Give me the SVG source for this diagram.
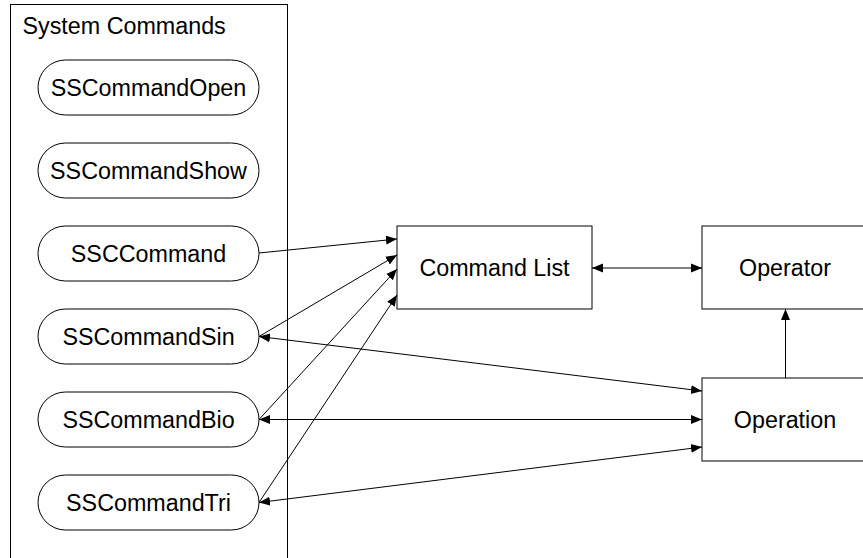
<svg xmlns="http://www.w3.org/2000/svg" width="863" height="558" viewBox="0 0 863 558">
<style>
.shape{fill:#fff;stroke:#000;stroke-width:1}
.lbl{font-family:"Liberation Sans",Arial,Helvetica,sans-serif;font-size:23.3px;fill:#000;text-anchor:middle}
.title{font-family:"Liberation Sans",Arial,Helvetica,sans-serif;font-size:23.3px;fill:#000}
.conn{stroke:#000;stroke-width:1;fill:none}
</style>
<defs>
<marker id="arr" viewBox="0 0 11 10" refX="11" refY="5" markerWidth="11" markerHeight="10" markerUnits="userSpaceOnUse" orient="auto-start-reverse">
<path d="M0,0.5 L11,5 L0,9.5 z" fill="#000"/>
</marker>
</defs>
<g id="system-commands">
<rect class="shape" x="10.5" y="4.5" width="277" height="600"/>
<text class="title" x="22.5" y="33.5">System Commands</text>
</g>
<g id="SSCommandOpen">
<rect class="shape" x="38" y="60" width="221" height="55" rx="27.5"/>
<text class="lbl" x="148.5" y="96">SSCommandOpen</text>
</g>
<g id="SSCommandShow">
<rect class="shape" x="38" y="143" width="221" height="55" rx="27.5"/>
<text class="lbl" x="148.5" y="179">SSCommandShow</text>
</g>
<g id="SSCCommand">
<rect class="shape" x="38" y="226" width="221" height="55" rx="27.5"/>
<text class="lbl" x="148.5" y="262">SSCCommand</text>
</g>
<g id="SSCommandSin">
<rect class="shape" x="38" y="309" width="221" height="55" rx="27.5"/>
<text class="lbl" x="148.5" y="345">SSCommandSin</text>
</g>
<g id="SSCommandBio">
<rect class="shape" x="38" y="392" width="221" height="55" rx="27.5"/>
<text class="lbl" x="148.5" y="428">SSCommandBio</text>
</g>
<g id="SSCommandTri">
<rect class="shape" x="38" y="475" width="221" height="55" rx="27.5"/>
<text class="lbl" x="148.5" y="511">SSCommandTri</text>
</g>
<g id="command-list">
<rect class="shape" x="397" y="226" width="195" height="83"/>
<text class="lbl" x="494.5" y="276">Command List</text>
</g>
<g id="operator">
<rect class="shape" x="702" y="226" width="166" height="83"/>
<text class="lbl" x="785" y="276">Operator</text>
</g>
<g id="operation">
<rect class="shape" x="702" y="378" width="166" height="83"/>
<text class="lbl" x="785" y="428">Operation</text>
</g>
<g id="connectors">
<line class="conn" x1="259" y1="253" x2="397" y2="239" marker-end="url(#arr)"/>
<line class="conn" x1="259" y1="336.5" x2="397" y2="255" marker-end="url(#arr)"/>
<line class="conn" x1="259" y1="419.5" x2="397" y2="269" marker-end="url(#arr)"/>
<line class="conn" x1="259" y1="502.5" x2="397" y2="295" marker-end="url(#arr)"/>
<line class="conn" x1="259" y1="336.5" x2="702" y2="391" marker-start="url(#arr)" marker-end="url(#arr)"/>
<line class="conn" x1="259" y1="419.5" x2="702" y2="419.5" marker-start="url(#arr)" marker-end="url(#arr)"/>
<line class="conn" x1="259" y1="502.5" x2="702" y2="447" marker-start="url(#arr)" marker-end="url(#arr)"/>
<line class="conn" x1="592" y1="268" x2="702" y2="268" marker-start="url(#arr)" marker-end="url(#arr)"/>
<line class="conn" x1="785.5" y1="378" x2="785.5" y2="309" marker-end="url(#arr)"/>
</g>
</svg>
